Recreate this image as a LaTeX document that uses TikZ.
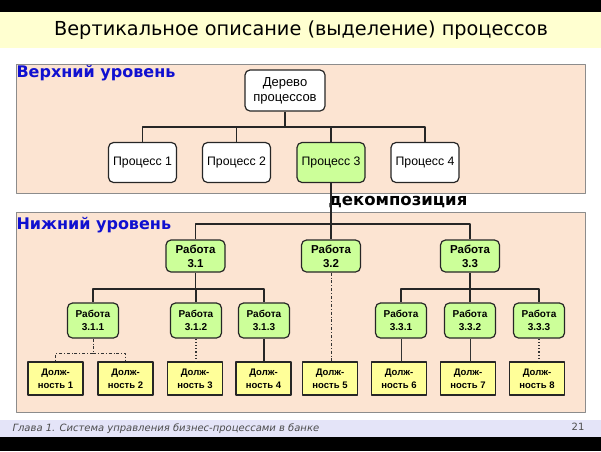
\documentclass[tikz,border=0pt]{standalone}
\usepackage{fontspec}
\setmainfont{Liberation Sans}
\newfontfamily\verd{DejaVu Sans}
\usetikzlibrary{positioning}
\definecolor{peach}{HTML}{FCE4D2}
\definecolor{titlebg}{HTML}{FFFFD0}
\definecolor{footbg}{HTML}{E4E4F8}
\definecolor{lgreen}{HTML}{CCFF99}
\definecolor{lyellow}{HTML}{FFFF99}
\definecolor{levelblue}{HTML}{1010D0}
\tikzset{
  panel/.style={draw=black!45, line width=1pt, fill=peach},
  box/.style={draw=black!85, line width=1.2pt, rounded corners=5pt, align=center, inner sep=1pt},
  proc/.style={box, fill=white, minimum width=68pt, minimum height=40pt, font=\fontsize{12.3}{14}\selectfont},
  work/.style={box, fill=lgreen, minimum width=59pt, minimum height=32pt, font=\bfseries\fontsize{11.5}{14}\selectfont},
  subwork/.style={box, fill=lgreen, minimum width=51pt, minimum height=35pt, font=\bfseries\fontsize{10}{12.5}\selectfont},
  post/.style={draw=black!85, line width=1.2pt, fill=lyellow, minimum width=55pt, minimum height=33pt, inner sep=1pt, align=center, font=\bfseries\fontsize{9.5}{13}\selectfont},
  link/.style={line width=1.2pt, black!85},
  thinlink/.style={line width=0.7pt, black!80},
  dotlink/.style={line width=1.2pt, black!80, dotted},
  dashdotlink/.style={line width=0.8pt, black!80, dash dot},
  level/.style={anchor=west, text=levelblue, font=\verd\bfseries\fontsize{16}{18}\selectfont}
}
\begin{document}
\begin{tikzpicture}[x=1pt, y=-1pt, line join=round]
% page bands
\useasboundingbox (0,0) rectangle (601,451);
\fill[black] (0,0) rectangle (601,12);
\fill[titlebg] (0,12) rectangle (601,48);
\fill[footbg] (0,420) rectangle (601,437);
\fill[black] (0,437) rectangle (601,451);
\node[font=\verd\fontsize{19.3}{21}\selectfont] (title) at (301,30) {Вертикальное описание (выделение) процессов};
\node[anchor=west, font=\verd\itshape\fontsize{10}{12}\selectfont, text=black!70] (foot) at (9,428.5) {Глава 1. Система управления бизнес-процессами в банке};
\node[font=\verd\fontsize{10}{12}\selectfont, text=black!70] (page) at (578,427) {21};

% panels
\draw[panel] (16,64) rectangle (585,193);
\draw[panel] (16,212) rectangle (585,412);
\node[level] (upper) at (13,73) {Верхний уровень};
\node[level] (lower) at (13,225) {Нижний уровень};
\node[anchor=west, font=\verd\bfseries\fontsize{16.5}{18}\selectfont] (decomp) at (325,202) {декомпозиция};

% upper level
\node[proc, minimum width=80pt, minimum height=41pt, font=\fontsize{13}{15}\selectfont] (tree) at (285,90.5) {Дерево\\процессов};
\node[proc] (p1) at (142.5,162.5) {Процесс 1};
\node[proc] (p2) at (236.5,162.5) {Процесс 2};
\node[proc, fill=lgreen] (p3) at (331,162.5) {Процесс 3};
\node[proc] (p4) at (425,162.5) {Процесс 4};
\coordinate (bus1) at (285,127);
\draw[link] (tree.south) -- (bus1);
\foreach \p in {p1,p2,p3,p4}
  \draw[link] (bus1) -| (\p.north);

% lower level: works
\node[work] (w31) at (195.5,256) {Работа\\3.1};
\node[work] (w32) at (331,256) {Работа\\3.2};
\node[work] (w33) at (470,256) {Работа\\3.3};
\coordinate (bus2) at (331,224);
\draw[link] (p3.south) -- (w32.north);
\draw[link] (bus2) -| (w31.north);
\draw[link] (bus2) -| (w33.north);

\node[subwork] (w311) at (93,320.5) {Работа\\3.1.1};
\node[subwork] (w312) at (196,320.5) {Работа\\3.1.2};
\node[subwork] (w313) at (264,320.5) {Работа\\3.1.3};
\node[subwork] (w331) at (401,320.5) {Работа\\3.3.1};
\node[subwork] (w332) at (470,320.5) {Работа\\3.3.2};
\node[subwork] (w333) at (539,320.5) {Работа\\3.3.3};
\coordinate (bus31) at (195.5,289);
\coordinate (bus33) at (470,289);
\draw[link] (w31.south) -- (bus31);
\foreach \w in {w311,w312,w313}
  \draw[link] (bus31) -| (\w.north);
\draw[link] (w33.south) -- (bus33);
\foreach \w in {w331,w332,w333}
  \draw[link] (bus33) -| (\w.north);

% positions
\node[post] (d1) at (55.5,378.5) {Долж-\\ность 1};
\node[post] (d2) at (125.5,378.5) {Долж-\\ность 2};
\node[post] (d3) at (195,378.5) {Долж-\\ность 3};
\node[post] (d4) at (263.5,378.5) {Долж-\\ность 4};
\node[post] (d5) at (330,378.5) {Долж-\\ность 5};
\node[post] (d6) at (399,378.5) {Долж-\\ность 6};
\node[post] (d7) at (468,378.5) {Долж-\\ность 7};
\node[post] (d8) at (537,378.5) {Долж-\\ность 8};
\coordinate (bus311) at (93,353);
\draw[dashdotlink] (w311.south) -- (bus311);
\draw[dashdotlink] (bus311) -| (d1.north);
\draw[dashdotlink] (bus311) -| (d2.north);
\draw[dotlink] (w312.south) -- (w312.south |- d3.north);
\draw[link] (w313.south) -- (w313.south |- d4.north);
\draw[dashdotlink] (w32.south) -- (w32.south |- d5.north);
\draw[thinlink] (w331.south) -- (w331.south |- d6.north);
\draw[thinlink] (w332.south) -- (w332.south |- d7.north);
\draw[dotlink] (w333.south) -- (w333.south |- d8.north);
\end{tikzpicture}
\end{document}
